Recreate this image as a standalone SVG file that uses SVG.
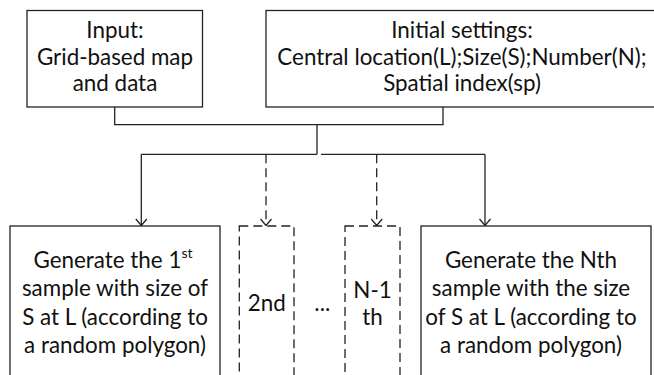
<svg xmlns="http://www.w3.org/2000/svg" width="654" height="375" viewBox="0 0 654 375">
<style>
  .box { fill: #ffffff; stroke: #222222; stroke-width: 1.3; }
  .dbox { fill: #ffffff; stroke: #222222; stroke-width: 1.3; stroke-dasharray: 9 5; }
  .line { fill: none; stroke: #222222; stroke-width: 1.3; }
  .dline { fill: none; stroke: #222222; stroke-width: 1.3; stroke-dasharray: 9 5; }
  .t { font-family: Lato, "Open Sans", "Liberation Sans", sans-serif; font-size: 22.4px; fill: #111111; text-anchor: middle; }
</style>
<defs>
  <marker id="arr" markerWidth="14" markerHeight="10" refX="6" refY="8" orient="0" markerUnits="userSpaceOnUse" viewBox="0 0 14 10">
    <path d="M0.5,1.5 L6,8 L11.5,1.5" fill="none" stroke="#222222" stroke-width="1.3"/>
  </marker>
</defs>
<rect width="654" height="375" fill="#ffffff"/>

<g id="input">
  <rect class="box" x="27" y="10.5" width="175.5" height="96.5"/>
  <text class="t" x="115" y="37.5">Input:</text>
  <text class="t" x="115" y="64.5">Grid-based map</text>
  <text class="t" x="115" y="91">and data</text>
</g>

<g id="settings">
  <rect class="box" x="266" y="10.5" width="393" height="96.5"/>
  <text class="t" x="462" y="37.5">Initial settings:</text>
  <text class="t" x="462" y="64.5">Central location(L);Size(S);Number(N);</text>
  <text class="t" x="462" y="91">Spatial index(sp)</text>
</g>

<g id="connectors">
  <path class="line" d="M114.7,107 V124.7 H443 V107"/>
  <path class="line" d="M317,124.7 V154.3"/>
  <path class="line" d="M141.3,154.3 H317" />
  <path class="line" d="M321,154.3 H485"/>
  <path class="line" d="M141.3,154.3 V225.5" marker-end="url(#arr)"/>
  <path class="line" d="M485,154.3 V225.5" marker-end="url(#arr)"/>
  <path class="dline" d="M266,154.3 V225.5" marker-end="url(#arr)"/>
  <path class="dline" d="M376.7,154.3 V225.5" marker-end="url(#arr)"/>
</g>

<g id="first">
  <rect class="box" x="10" y="226" width="210" height="165"/>
  <text class="t" x="113" y="267.5">Generate the 1<tspan font-size="14" dy="-10">st</tspan></text>
  <text class="t" x="115" y="296">sample with size of</text>
  <text class="t" x="115" y="324.5">S at L (according to</text>
  <text class="t" x="115" y="353">a random polygon)</text>
</g>

<g id="second">
  <rect class="dbox" x="239.3" y="226" width="54.7" height="165"/>
  <text class="t" x="266.7" y="311">2nd</text>
</g>

<g id="ellipsis">
  <text class="t" x="322.3" y="311">...</text>
</g>

<g id="nminus1">
  <rect class="dbox" x="345" y="226" width="55" height="165"/>
  <text class="t" x="372.5" y="297.5">N-1</text>
  <text class="t" x="372.5" y="324.5">th</text>
</g>

<g id="nth">
  <rect class="box" x="421" y="226" width="230" height="165"/>
  <text class="t" x="531" y="267.5">Generate the Nth</text>
  <text class="t" x="531" y="296">sample with the size</text>
  <text class="t" x="531" y="324.5">of S at L (according to</text>
  <text class="t" x="531" y="353">a random polygon)</text>
</g>
</svg>
